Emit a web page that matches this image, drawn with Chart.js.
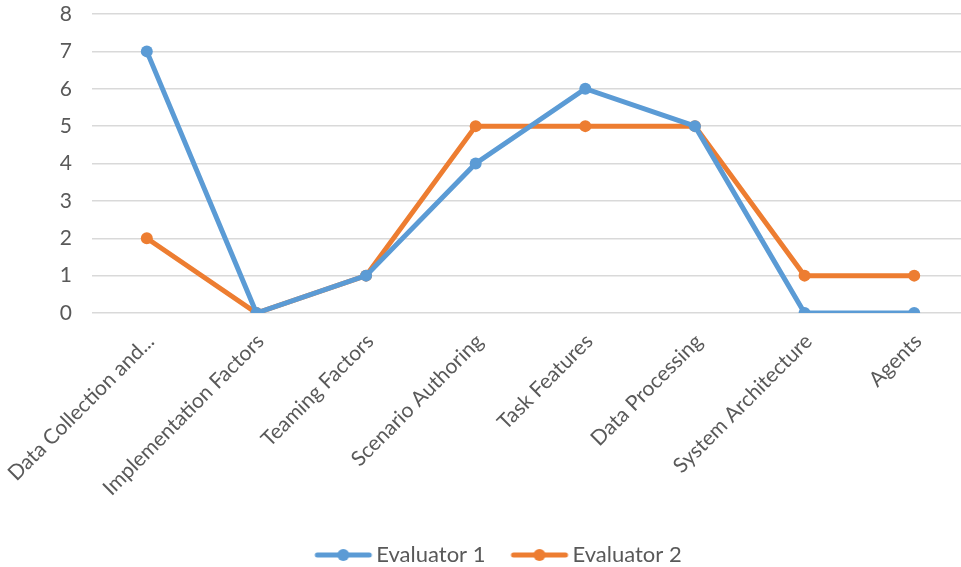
<!DOCTYPE html>
<html><head><meta charset="utf-8">
<script src="https://cdn.jsdelivr.net/npm/chart.js@4/dist/chart.umd.min.js"></script>
<style>html,body{margin:0;padding:0;background:#fff;overflow:hidden;width:961px;height:567px}</style>
</head><body>
<canvas id="c" width="975" height="567" style="display:block"></canvas>
<script>
const categories = ["Data Collection and...", "Implementation Factors", "Teaming Factors", "Scenario Authoring", "Task Features", "Data Processing", "System Architecture", "Agents"];
const evaluator1 = [7, 0, 1, 4, 6, 5, 0, 0];
const evaluator2 = [2, 0, 1, 5, 5, 5, 1, 1];
const yTicks = [0, 1, 2, 3, 4, 5, 6, 7, 8];

const BLUE = '#5B9BD5', ORANGE = '#ED7D31';
const FONT = 'Lato, "Liberation Sans", sans-serif';

function legendIcon(color) {
  const c = document.createElement('canvas');
  c.width = 60; c.height = 14;
  const g = c.getContext('2d');
  g.strokeStyle = color; g.lineWidth = 5; g.lineCap = 'round';
  g.beginPath(); g.moveTo(4, 7); g.lineTo(56, 7); g.stroke();
  g.fillStyle = color; g.beginPath(); g.arc(30, 7, 6, 0, Math.PI * 2); g.fill();
  return c;
}
const icons = [legendIcon(BLUE), legendIcon(ORANGE)];

const shiftLegend = {
  id: 'shiftLegend',
  afterLayout(chart) {
    if (chart.legend) { chart.legend.left += 17; chart.legend.right += 17; }
  }
};

new Chart(document.getElementById('c'), {
  type: 'line',
  data: {
    labels: categories,
    datasets: [
      { label: 'Evaluator 1', data: evaluator1, borderColor: BLUE, backgroundColor: BLUE, borderWidth: 5, pointRadius: 6, pointBackgroundColor: BLUE, pointBorderWidth: 0, tension: 0 },
      { label: 'Evaluator 2', data: evaluator2, borderColor: ORANGE, backgroundColor: ORANGE, borderWidth: 5, pointRadius: 6, pointBackgroundColor: ORANGE, pointBorderWidth: 0, tension: 0 }
    ]
  },
  plugins: [shiftLegend],
  options: {
    responsive: false,
    animation: false,
    layout: { padding: { top: 14, right: 6, bottom: -9, left: 0 } },
    plugins: {
      tooltip: { enabled: false },
      legend: {
        position: 'bottom',
        labels: {
          usePointStyle: true,
          pointStyleWidth: 44,
          padding: 32,
          color: '#595959',
          font: { family: FONT, size: 22 },
          generateLabels(chart) {
            return chart.data.datasets.map((d, i) => ({
              text: d.label, pointStyle: icons[i], fillStyle: d.borderColor,
              strokeStyle: d.borderColor, lineWidth: 0, datasetIndex: i, fontColor: '#595959'
            }));
          }
        }
      }
    },
    scales: {
      x: {
        offset: true,
        grid: { display: false },
        border: { display: false },
        ticks: { color: '#595959', font: { family: FONT, size: 21 }, minRotation: 45, maxRotation: 45, padding: 8, labelOffset: 4, autoSkip: false },
        afterFit(s) { s.height = 199; s.paddingLeft = 0; s.paddingRight = 0; }
      },
      y: {
        min: 0, max: 8,
        afterBuildTicks(s) { s.ticks = yTicks.map(v => ({ value: v })); },
        grid: { color: '#D9D9D9', lineWidth: 1.5, drawTicks: false },
        border: { display: false },
        ticks: { color: '#595959', font: { family: FONT, size: 21 }, padding: 20 },
        afterFit(s) { s.width = 92; s.paddingTop = 0; s.paddingBottom = 0; }
      }
    }
  }
});
</script>
</body></html>
